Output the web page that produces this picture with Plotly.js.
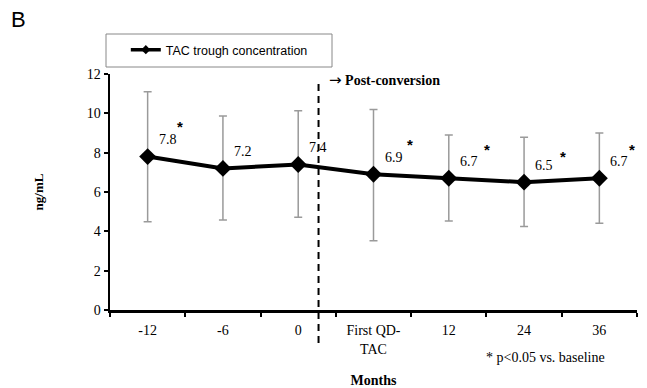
<!DOCTYPE html>
<html><head><meta charset="utf-8">
<script src="https://cdn.plot.ly/plotly-3.0.1.min.js"></script>
<style>body{margin:0;padding:0;background:#fff}#chart{width:647px;height:388px}</style>
</head><body><div id="chart"></div>
<script>
const categories = ['-12', '-6', '0', 'First QD-<br>TAC', '12', '24', '36'];
const means = [7.8, 7.2, 7.4, 6.9, 6.7, 6.5, 6.7];
const upper = [11.1, 9.86, 10.13, 10.2, 8.9, 8.78, 9.0];
const lower = [4.49, 4.58, 4.71, 3.52, 4.52, 4.24, 4.41];
const significant = [true, false, false, true, true, true, true];
const yTicks = [0, 2, 4, 6, 8, 10, 12];

const serif = 'Liberation Serif, Times New Roman, serif';
const sans = 'Liberation Sans, Arial, sans-serif';
const xIdx = categories.map((c, i) => i);

const trace = {
  x: xIdx, y: means, type: 'scatter', mode: 'lines+markers',
  name: 'TAC trough concentration', showlegend: false,
  line: {color: '#000', width: 4},
  marker: {symbol: 'diamond', size: 13, color: '#000'},
  error_y: {type: 'data', symmetric: false,
    array: upper.map((u, i) => u - means[i]),
    arrayminus: means.map((m, i) => m - lower[i]),
    color: '#9a9a9a', thickness: 1.5, width: 4}
};
const legendTrace = {
  x: [null], y: [null], type: 'scatter', mode: 'lines+markers',
  name: 'TAC trough concentration', showlegend: true,
  line: {color: '#000', width: 3.5},
  marker: {symbol: 'diamond', size: 7, color: '#000'}
};

const astShift = [[12, 14], null, null, [16, 14], [18, 13], [19, 10], [13, 13]];
const annotations = [];
means.forEach((m, i) => {
  annotations.push({x: i, y: m, xref: 'x', yref: 'y', text: m.toFixed(1),
    showarrow: false, xshift: 20, yshift: 17, font: {family: serif, size: 14, color: '#000'}});
  if (significant[i]) {
    annotations.push({x: i, y: m, xref: 'x', yref: 'y', text: '<b>*</b>',
      showarrow: false, xshift: 20 + astShift[i][0], yshift: 16 + astShift[i][1],
      font: {family: sans, size: 15, color: '#000'}});
  }
});
annotations.push(
  {text: 'B', showarrow: false, xref: 'paper', yref: 'paper',
   x: (18 - 110) / 527, y: (310 - 20) / 236, xanchor: 'center', yanchor: 'middle',
   font: {family: sans, size: 22, color: '#000'}},
  {text: '<span style="font-family:DejaVu Sans;font-size:15px">→</span><b> Post-conversion</b>', showarrow: false, xref: 'paper', yref: 'paper',
   x: (327 - 110) / 527, y: (310 - 80) / 236, xanchor: 'left', yanchor: 'middle',
   font: {family: serif, size: 14, color: '#000'}},
  {text: '* p<0.05 vs. baseline', showarrow: false, xref: 'paper', yref: 'paper',
   x: (545 - 110) / 527, y: (310 - 357) / 236, xanchor: 'center', yanchor: 'middle',
   font: {family: serif, size: 14, color: '#000'}}
);

const layout = {
  width: 647, height: 388,
  margin: {l: 110, r: 10, t: 74, b: 78},
  paper_bgcolor: '#fff', plot_bgcolor: '#fff',
  showlegend: true,
  legend: {x: 0.03, y: (310 - 50) / 236, xanchor: 'left', yanchor: 'middle',
    bgcolor: 'rgba(0,0,0,0)', borderwidth: 0,
    font: {family: sans, size: 12.5, color: '#000'}},
  xaxis: {range: [-0.5, 6.5], tickvals: xIdx, ticktext: categories,
    showgrid: false, zeroline: false,
    showline: true, linecolor: '#000', linewidth: 2.5,
    ticks: '', ticklabelstandoff: 6,
    tickfont: {family: serif, size: 14, color: '#000'},
    minor: {tickvals: [-0.5, 0.5, 1.5, 2.5, 3.5, 4.5, 5.5, 6.5], ticks: 'outside', ticklen: 4, tickwidth: 2, tickcolor: '#000', showgrid: false},
    title: {text: '<b>Months</b>', font: {family: serif, size: 14, color: '#000'}, standoff: 22}},
  yaxis: {range: [0, 12], tickvals: yTicks, showgrid: false, zeroline: false,
    showline: true, linecolor: '#000', linewidth: 2.5,
    ticks: 'outside', ticklen: 4, tickwidth: 2, tickcolor: '#000',
    tickfont: {family: serif, size: 14, color: '#000'},
    title: {text: '<b>ng/mL</b>', font: {family: serif, size: 13, color: '#000'}, standoff: 40}},
  shapes: [
    {type: 'line', xref: 'x', yref: 'paper', x0: 2.27, x1: 2.27, y0: -0.14, y1: 0.975,
     line: {color: '#000', width: 2, dash: '7px,5px'}},
    {type: 'rect', xref: 'paper', yref: 'paper',
     x0: (106 - 110) / 527, x1: (332 - 110) / 527, y0: (310 - 67) / 236, y1: (310 - 34) / 236,
     line: {color: '#888', width: 1}, fillcolor: 'rgba(0,0,0,0)'}
  ],
  annotations: annotations
};

Plotly.newPlot('chart', [trace, legendTrace], layout, {displayModeBar: false, staticPlot: true});
</script></body></html>
